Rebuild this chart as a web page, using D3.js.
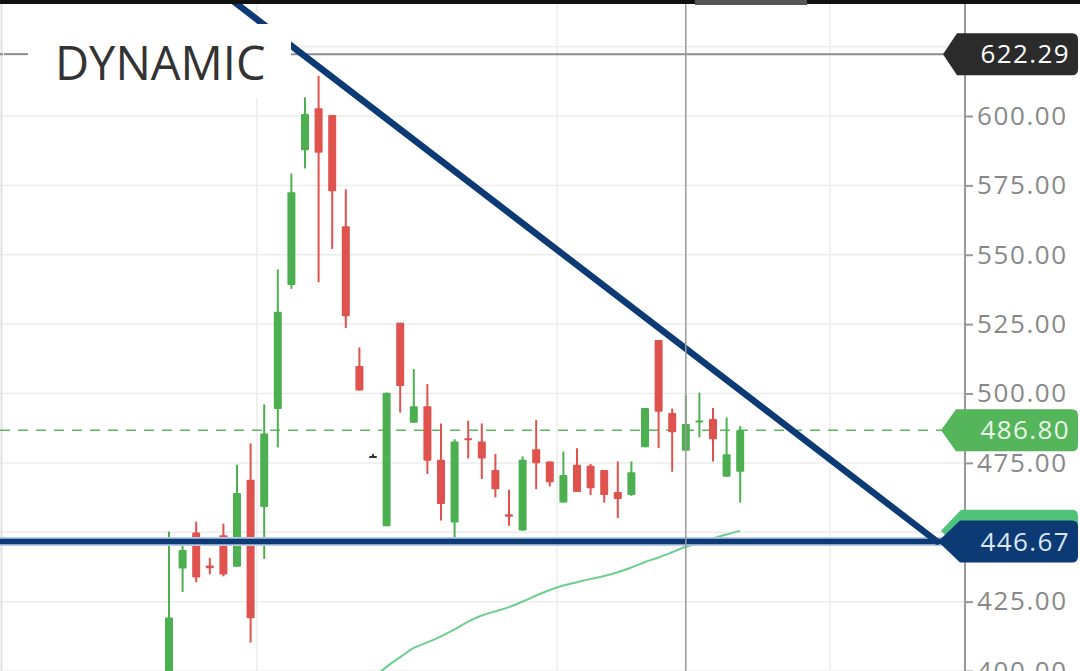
<!DOCTYPE html>
<html>
<head>
<meta charset="utf-8">
<script src="https://cdn.jsdelivr.net/npm/d3@7"></script>
<style>
html,body{margin:0;padding:0;background:#fff;}
svg{display:block;}
text{font-family:"Open Sans","Noto Sans",sans-serif;}
</style>
</head>
<body>
<svg id="chart" width="1080" height="671"></svg>
<script>
// ---- data ----
const candleIndex = d3.range(0, 43);
const opens  = [390,436.9,449.9,438.0,448.9,437.6,468.9,459.1,494.4,539.1,587.7,602.8,600.4,560.3,509.9,477.5,452.2,525.5,489.5,495.4,476.1,453.5,483.9,482.7,472.4,456.5,450.6,479.9,475.5,460.7,474.3,474.0,472.4,464.5,463.4,480.6,519.3,493.0,479.4,490.0,490.8,470.0,471.8];
const highs  = [450.3,445.4,453.8,440.7,453.1,474.3,482.0,496.1,544.7,579.3,606.8,614.5,600.4,573.6,516.6,478.2,500.3,525.5,508.8,503.4,489.2,483.5,490.2,489.2,478.2,465.3,477.3,490.4,475.5,479.1,480.3,474.6,472.4,475.5,475.5,494.8,519.3,494.6,499.4,500.3,494.8,491.3,488.3];
const lows   = [380,428.5,432.0,434.8,434.1,437.6,410.2,440.4,480.6,537.7,581.1,540.1,552.1,523.6,501.1,477.0,452.2,493.1,489.5,471.0,454.2,447.2,476.6,469.2,462.6,452.3,450.6,465.5,466.5,460.7,464.5,463.4,460.7,455.1,463.1,480.6,480.3,471.8,479.4,484.2,475.5,470.0,460.7];
const closes = [419.3,443.6,433.7,437.0,434.8,464.1,419.0,485.6,529.5,572.5,600.7,586.8,572.9,527.8,501.1,477.5,500.3,502.7,495.4,475.8,460.2,482.7,483.3,476.6,465.5,455.6,476.1,474.9,468.0,470.6,464.5,465.9,463.4,462.0,471.6,494.8,493.4,486.0,489.0,490.3,483.5,478.1,486.8];

const maIndex  = d3.range(15, 43);
const maValues = [397.5,401.5,405.0,408.3,410.3,412.5,415.0,417.8,420.0,421.5,423.0,425.0,427.2,429.2,430.8,432.0,433.2,434.2,435.6,437.3,439.3,440.9,442.8,444.8,446.0,447.8,449.2,450.5];

const gridTicks = [400,425,450,475,500,525,550,575,600,625];
const labelTicks = [400,425,475,500,525,550,575,600];
const vGridAt = [6.47, 28.53, 48.6];
const crosshairAt = 38;
const trendLine = [[2.28, 650.6],[56.47, 446.67]];
const supportLevel = 446.67;
const dynamicLevel = 622.29;
const lastPrice = 486.80;
const maLast = 450.5;
const labelText = "DYNAMIC";

// ---- scales ----
const W = 1080, H = 671;
const x = d3.scaleLinear().domain([0, 42]).range([169, 740.2]);
const y = d3.scaleLinear().domain([400, 600]).range([671, 116]);
const axisX = 965;

const svg = d3.select("#chart");
svg.append("rect").attr("width", W).attr("height", H).attr("fill", "#fff");

svg.append("defs").append("clipPath").attr("id", "plot")
  .append("rect").attr("x", 0).attr("y", 0).attr("width", axisX).attr("height", H);

// gridlines
const grid = svg.append("g");
grid.selectAll("line.h").data(gridTicks).join("line")
  .attr("x1", 0).attr("x2", axisX).attr("y1", d => y(d)).attr("y2", d => y(d))
  .attr("stroke", "#ececec").attr("stroke-width", 1.5);
grid.selectAll("line.v").data(vGridAt).join("line")
  .attr("x1", d => x(d)).attr("x2", d => x(d)).attr("y1", 0).attr("y2", H)
  .attr("stroke", "#ececec").attr("stroke-width", 1.5);

// left frame line
svg.append("line").attr("x1", 1.5).attr("x2", 1.5).attr("y1", 0).attr("y2", H)
  .attr("stroke", "#e2e2e2").attr("stroke-width", 2);

const plot = svg.append("g").attr("clip-path", "url(#plot)");

// dynamic level line
plot.append("line").attr("x1", 0).attr("x2", 945).attr("y1", y(dynamicLevel)).attr("y2", y(dynamicLevel))
  .attr("stroke", "#8c8c8c").attr("stroke-width", 2);

// last price dashed line
plot.append("line").attr("x1", 0).attr("x2", 945).attr("y1", y(lastPrice)).attr("y2", y(lastPrice))
  .attr("stroke", "#5cb85c").attr("stroke-width", 1.5).attr("stroke-dasharray", "10,8");

// crosshair
svg.append("line").attr("x1", x(crosshairAt)).attr("x2", x(crosshairAt)).attr("y1", 0).attr("y2", H)
  .attr("stroke", "#9a9a9a").attr("stroke-width", 1.5);

// MA line
plot.append("path")
  .datum(maIndex.map((d, i) => [d, maValues[i]]))
  .attr("d", d3.line().x(d => x(d[0])).y(d => y(d[1])).curve(d3.curveMonotoneX))
  .attr("fill", "none").attr("stroke", "#6ccf8f").attr("stroke-width", 2);

// candles
const green = "#4caf50", red = "#e0524e";
const candles = candleIndex.map(i => ({i, o: opens[i], h: highs[i], l: lows[i], c: closes[i]}));
const cg = plot.append("g");
cg.selectAll("line.w").data(candles).join("line")
  .attr("x1", d => x(d.i)).attr("x2", d => x(d.i))
  .attr("y1", d => y(d.h)).attr("y2", d => y(d.l))
  .attr("stroke", d => d.c > d.o ? green : d.c < d.o ? red : "#333")
  .attr("stroke-width", 2);
cg.selectAll("rect").data(candles).join("rect")
  .attr("x", d => x(d.i) - 4)
  .attr("width", 8)
  .attr("y", d => y(Math.max(d.o, d.c)))
  .attr("height", d => Math.max(2, Math.abs(y(d.o) - y(d.c))))
  .attr("rx", 1)
  .attr("fill", d => d.c > d.o ? green : d.c < d.o ? red : "#333");

// support line
plot.append("line").attr("x1", 0).attr("x2", 942).attr("y1", y(supportLevel)).attr("y2", y(supportLevel))
  .attr("stroke", "#b9cbe6").attr("stroke-width", 9);
plot.append("line").attr("x1", 0).attr("x2", 942).attr("y1", y(supportLevel)).attr("y2", y(supportLevel))
  .attr("stroke", "#0b3a74").attr("stroke-width", 5.5);

// trend line
plot.append("line")
  .attr("x1", x(trendLine[0][0])).attr("y1", y(trendLine[0][1]))
  .attr("x2", x(trendLine[1][0])).attr("y2", y(trendLine[1][1]))
  .attr("stroke", "#0b3a74").attr("stroke-width", 6.5).attr("stroke-linecap", "round");

// label box
svg.append("rect").attr("x", 3).attr("y", 24).attr("width", 288).attr("height", 74).attr("fill", "#fff");
svg.append("line").attr("x1", 4).attr("x2", 28).attr("y1", y(dynamicLevel)).attr("y2", y(dynamicLevel))
  .attr("stroke", "#8c8c8c").attr("stroke-width", 2);
svg.append("text").attr("x", 55).attr("y", 80).text(labelText)
  .attr("font-size", 47).attr("fill", "#333");

// axis
svg.append("line").attr("x1", axisX).attr("x2", axisX).attr("y1", 4).attr("y2", H)
  .attr("stroke", "#999").attr("stroke-width", 2);
const ax = svg.append("g").attr("transform", `translate(${axisX},0)`)
  .call(d3.axisRight(y).tickValues(labelTicks).tickFormat(d3.format(".2f")).tickSize(8).tickPadding(4));
ax.select(".domain").remove();
ax.selectAll(".tick line").attr("stroke", "#999").attr("stroke-width", 2);
ax.selectAll(".tick text").attr("font-size", 26).attr("fill", "#888")
  .attr("font-family", "'Open Sans','Noto Sans',sans-serif").attr("letter-spacing", 1.6);

// tags
function tagPath(yc, xp, bevel, h) {
  const xr = 1078, r = 6, t = yc - h / 2, b = yc + h / 2;
  return `M${xp},${yc} L${xp + bevel},${t} L${xr - r},${t} Q${xr},${t} ${xr},${t + r} L${xr},${b - r} Q${xr},${b} ${xr - r},${b} L${xp + bevel},${b} Z`;
}
const tags = [
  {v: dynamicLevel, fill: "#2b2b2b", color: "#fff", xp: 943, bevel: 14, text: true},
  {v: lastPrice, fill: "#55b55a", color: "#eaf6ea", xp: 941, bevel: 15, text: true},
  {v: maLast, fill: "#4fc47a", color: "#fff", xp: 941, bevel: 20, text: false},
  {v: supportLevel, fill: "#0b3a74", color: "#dce6f4", xp: 938, bevel: 22, text: true}
];
tags.forEach(t => {
  const yc = y(t.v);
  svg.append("path").attr("d", tagPath(yc, t.xp, t.bevel, 42)).attr("fill", t.fill);
  if (t.text) {
    svg.append("text").attr("x", 1070).attr("y", yc).attr("dy", "0.35em")
      .attr("text-anchor", "end").attr("font-size", 26).attr("fill", t.color)
      .attr("letter-spacing", 1.4).text(d3.format(".2f")(t.v));
  }
});

// top bar
svg.append("rect").attr("x", 0).attr("y", 0).attr("width", W).attr("height", 4).attr("fill", "#111");
svg.append("rect").attr("x", 695).attr("y", 0).attr("width", 112).attr("height", 5).attr("fill", "#555");
</script>
</body>
</html>
